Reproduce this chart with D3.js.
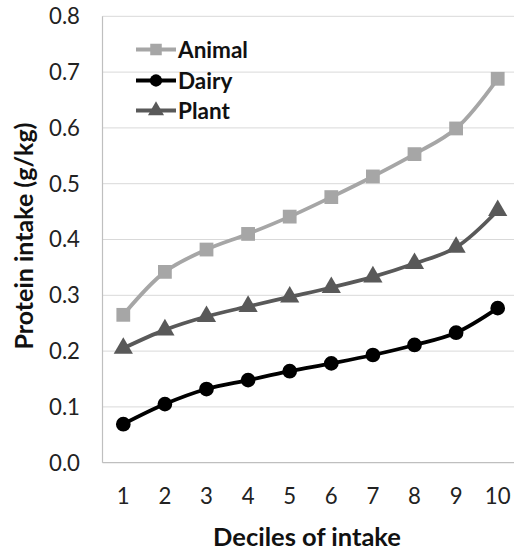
<!DOCTYPE html>
<html><head><meta charset="utf-8">
<script src="https://cdn.jsdelivr.net/npm/d3@7"></script>
<style>html,body{margin:0;padding:0;background:#fff;overflow:hidden}</style>
</head><body>
<svg id="c" width="514" height="553"></svg>
<script>
const deciles = [1,2,3,4,5,6,7,8,9,10];
const animal = [0.265,0.342,0.382,0.410,0.441,0.476,0.513,0.553,0.599,0.688];
const dairy  = [0.069,0.105,0.132,0.148,0.164,0.178,0.193,0.211,0.233,0.277];
const plant  = [0.205,0.238,0.262,0.280,0.297,0.314,0.333,0.357,0.386,0.452];
const yTicks = [0,0.1,0.2,0.3,0.4,0.5,0.6,0.7,0.8];
const seriesNames = ["Animal","Dairy","Plant"];

const FONT = "Lato, 'Open Sans', sans-serif";
const svg = d3.select("#c");
const L = 102.5, R = 518.5, T = 16.3, B = 462.7;

// font size fitting helper: size such that given text reaches target width
function fitSize(text, target, weight) {
  const t = svg.append("text").attr("font-family", FONT).attr("font-size", 20)
    .attr("font-weight", weight).text(text);
  const w = t.node().getComputedTextLength();
  t.remove();
  return 20 * target / w;
}
const tickSize = fitSize("0.8", 31, "normal");
const legSize = fitSize("Animal", 70, "bold");
const xTitleSize = fitSize("Deciles of intake", 188, "bold");
const yTitleSize = fitSize("Protein intake (g/kg)", 227, "bold");

const x = d3.scaleBand().domain(deciles).range([L, R]);
const xc = d => x(d) + x.bandwidth()/2;
const y = d3.scaleLinear().domain([0, 0.8]).range([B, T]);

// gridlines
svg.append("g").selectAll("line").data(yTicks.filter(t => t > 0)).join("line")
  .attr("x1", L).attr("x2", R).attr("y1", d => y(d)).attr("y2", d => y(d))
  .attr("stroke", "#d9d9d9").attr("stroke-width", 1);

// axes lines
svg.append("line").attr("x1", L).attr("x2", L).attr("y1", T).attr("y2", B)
  .attr("stroke", "#bfbfbf").attr("stroke-width", 1.2);
svg.append("line").attr("x1", L).attr("x2", R).attr("y1", B).attr("y2", B)
  .attr("stroke", "#bfbfbf").attr("stroke-width", 1.2);

// y tick labels
svg.append("g").selectAll("text").data(yTicks).join("text")
  .attr("x", 80).attr("y", d => y(d)).attr("dy", "0.36em")
  .attr("text-anchor", "end").attr("font-family", FONT).attr("font-size", tickSize)
  .attr("fill", "#222").text(d => d3.format(".1f")(d));

// x tick labels
svg.append("g").selectAll("text").data(deciles).join("text")
  .attr("x", d => xc(d)).attr("y", 496).attr("dy", "0.36em")
  .attr("text-anchor", "middle").attr("font-family", FONT).attr("font-size", tickSize)
  .attr("fill", "#222").text(d => d);

// axis titles
svg.append("text").attr("x", 307).attr("y", 546).attr("text-anchor", "middle")
  .attr("font-family", FONT).attr("font-size", xTitleSize).attr("font-weight", "bold")
  .attr("fill", "#111").text("Deciles of intake");
svg.append("text").attr("transform", "translate(33,236) rotate(-90)")
  .attr("text-anchor", "middle")
  .attr("font-family", FONT).attr("font-size", yTitleSize).attr("font-weight", "bold")
  .attr("fill", "#111").text("Protein intake (g/kg)");

const series = [
  {name: seriesNames[0], values: animal, color: "#a6a6a6", sym: d3.symbolSquare, size: 190},
  {name: seriesNames[1], values: dairy,  color: "#000000", sym: d3.symbolCircle, size: 170},
  {name: seriesNames[2], values: plant,  color: "#595959", sym: d3.symbolTriangle, size: 160}
];

const line = d3.line().x((d,i) => xc(deciles[i])).y(d => y(d)).curve(d3.curveCatmullRom.alpha(0.5));

series.forEach(s => {
  svg.append("path").attr("d", line(s.values)).attr("fill", "none")
    .attr("stroke", s.color).attr("stroke-width", 3.8);
  svg.append("g").selectAll("path").data(s.values).join("path")
    .attr("transform", (d,i) => `translate(${xc(deciles[i])},${y(d)})`)
    .attr("d", d3.symbol().type(s.sym).size(s.size)).attr("fill", s.color);
});

// legend
const legY = [49.5, 80.5, 110.5];
series.forEach((s, i) => {
  const g = svg.append("g").attr("transform", `translate(0,${legY[i]})`);
  g.append("line").attr("x1", 136).attr("x2", 176).attr("y1", 0).attr("y2", 0)
    .attr("stroke", s.color).attr("stroke-width", 3.8);
  g.append("path").attr("transform", "translate(156,0)")
    .attr("d", d3.symbol().type(s.sym).size(s.size * 0.7)).attr("fill", s.color);
  g.append("text").attr("x", 178).attr("y", 0).attr("dy", "0.36em")
    .attr("font-family", FONT).attr("font-size", legSize).attr("font-weight", "bold")
    .attr("fill", "#111").text(s.name);
});
</script>
</body></html>
